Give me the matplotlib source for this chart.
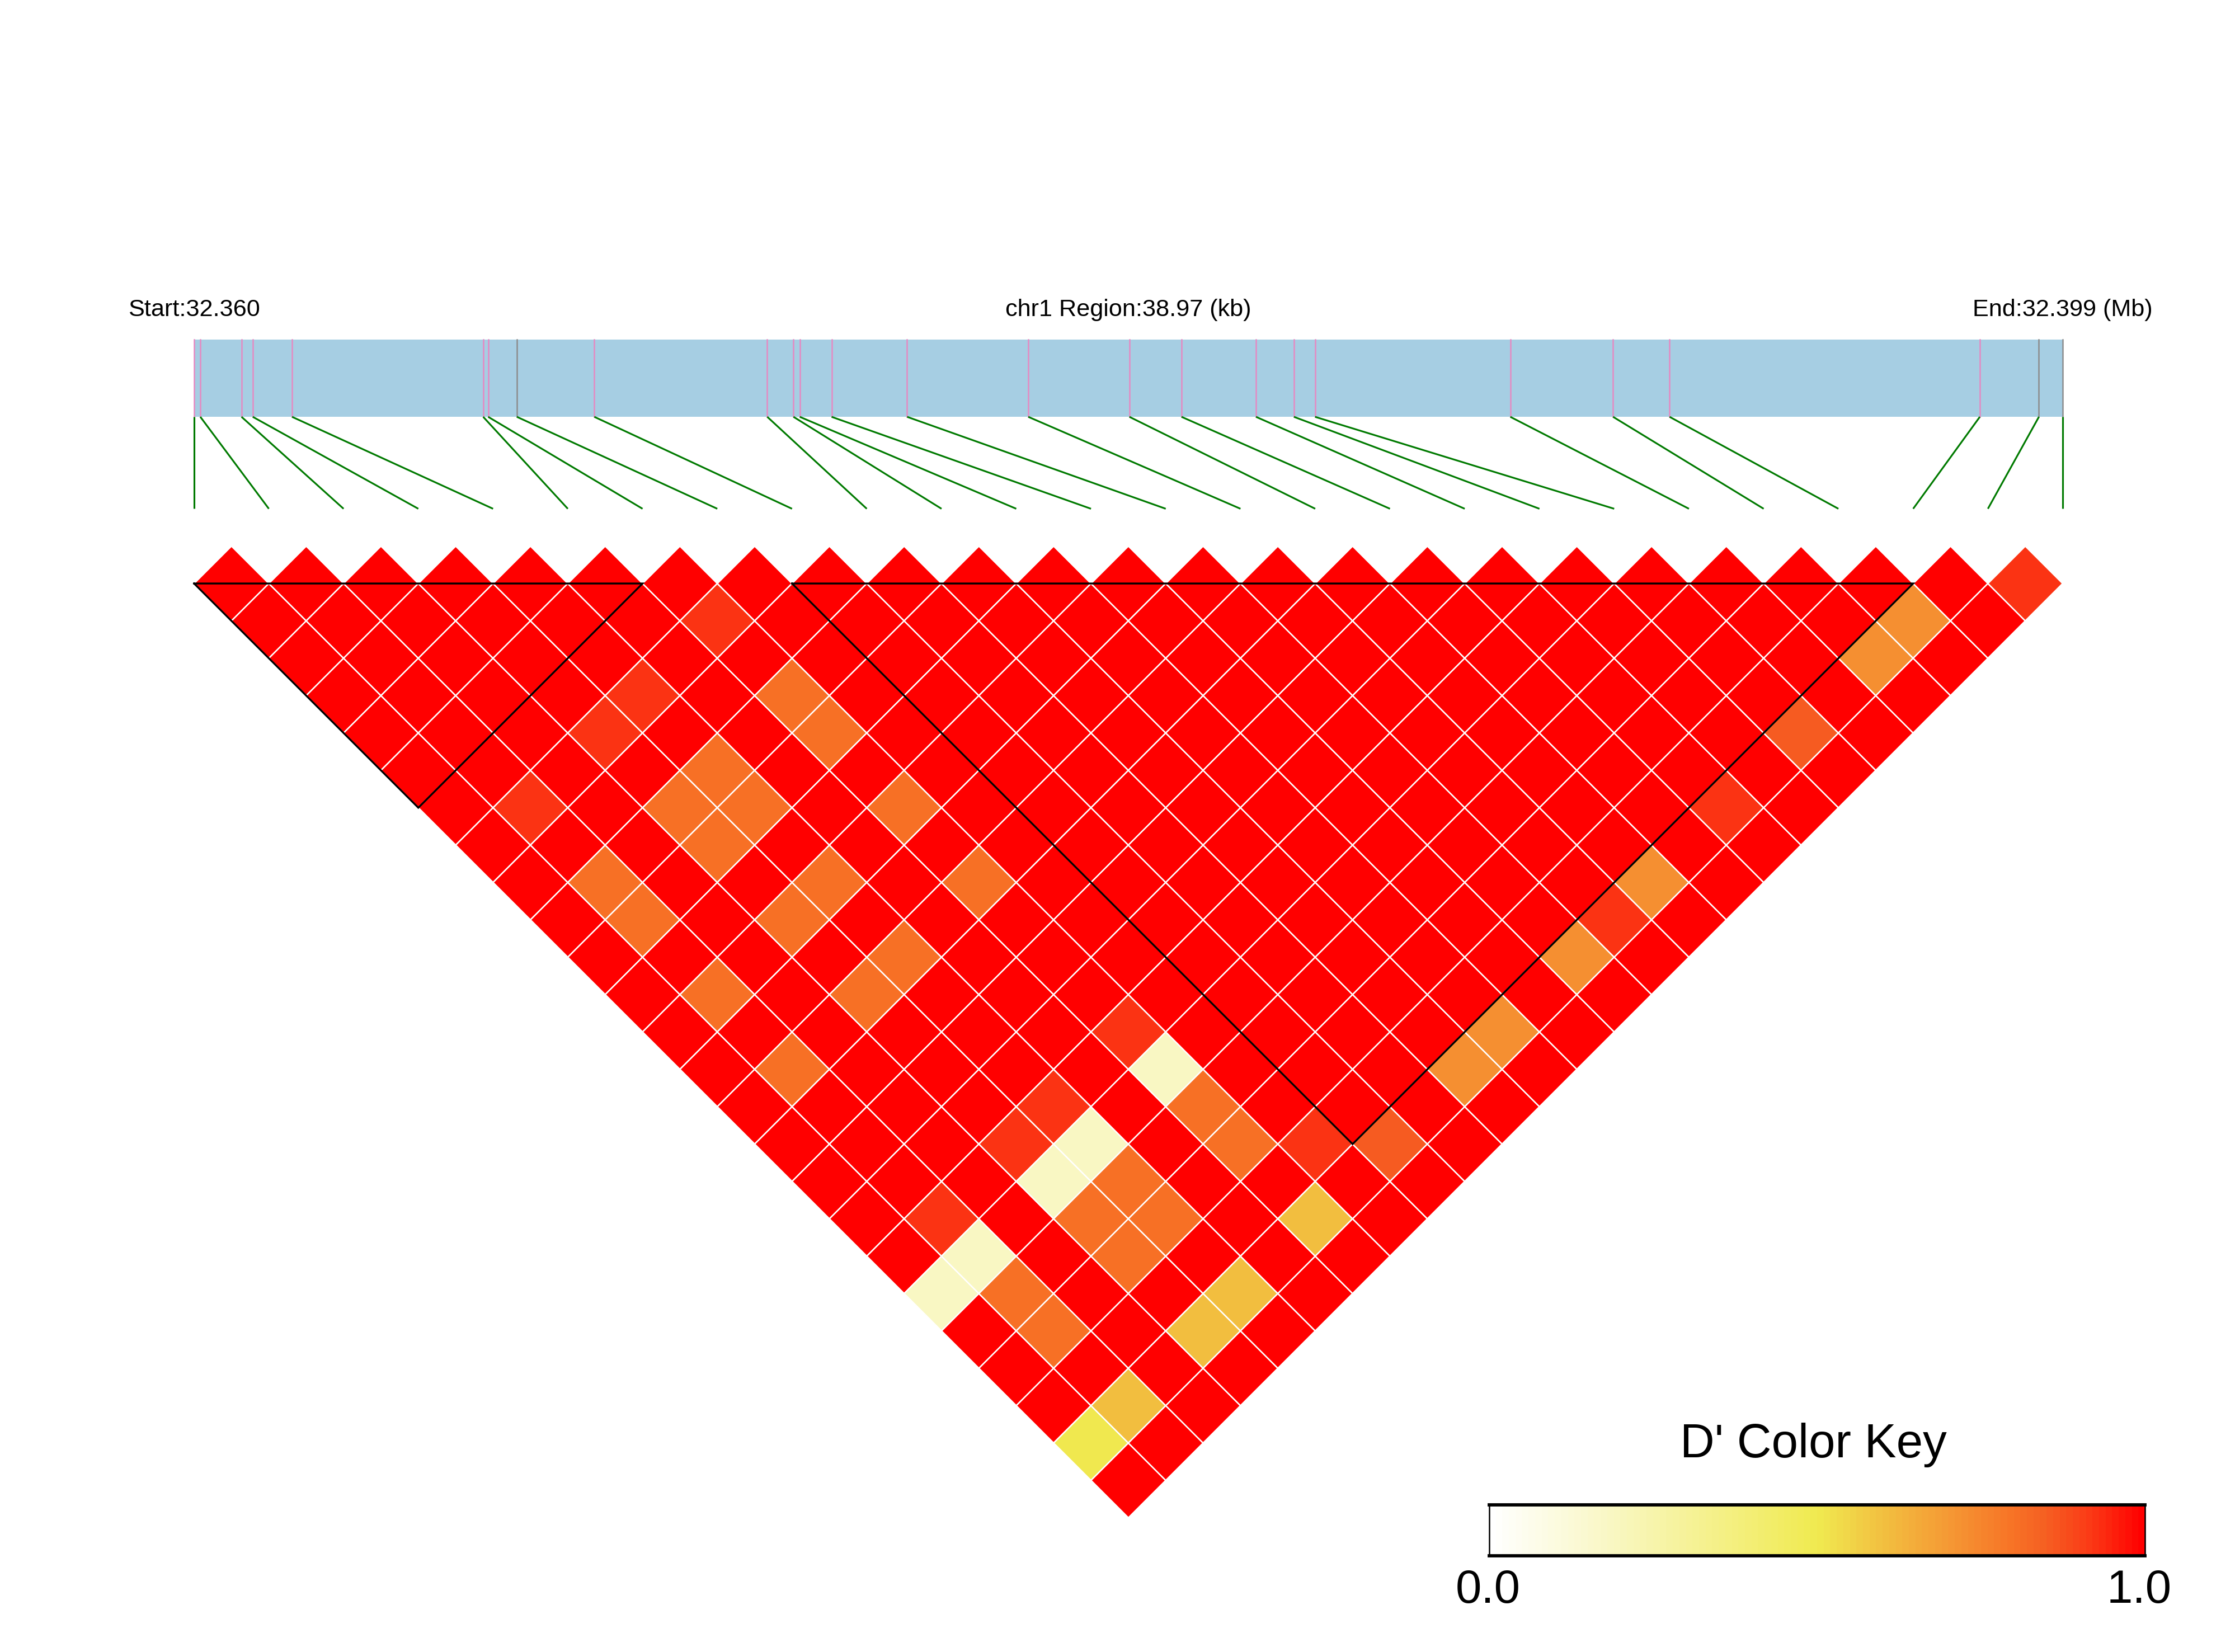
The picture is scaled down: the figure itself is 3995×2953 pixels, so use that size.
import matplotlib
matplotlib.use("Agg")
import matplotlib.pyplot as plt
import numpy as np
from matplotlib.collections import PolyCollection, LineCollection
from matplotlib.colors import LinearSegmentedColormap, Normalize

plt.rcParams["font.family"] = ["Liberation Sans", "DejaVu Sans"]

# SNP physical positions (bp) on chr1
snp_pos = [32360100, 32360230, 32361089, 32361324, 32362143, 32366129,
           32366233, 32366832, 32368447, 32372054, 32372601, 32372732,
           32373396, 32374971, 32377498, 32379607, 32380694, 32382247,
           32383038, 32383479, 32387551, 32389694, 32390873, 32397343,
           32398575, 32399070]
grey_snps = [7, 24, 25]

# pairs with D' below 1 (all other pairs are 1.0)
weak_pairs = [
    (6, 8, 0.92), (4, 8, 0.92), (3, 8, 0.92), (1, 8, 0.92),
    (6, 19, 0.92), (4, 19, 0.92), (3, 19, 0.92), (1, 19, 0.92),
    (7, 23, 0.92), (17, 24, 0.92), (14, 24, 0.92), (24, 25, 0.92),
    (1, 10, 0.80), (3, 10, 0.80), (4, 10, 0.80), (6, 10, 0.80),
    (1, 11, 0.80), (3, 11, 0.80), (4, 11, 0.80), (6, 11, 0.80),
    (1, 13, 0.80), (3, 13, 0.80), (4, 13, 0.80), (6, 13, 0.80),
    (1, 15, 0.80), (3, 15, 0.80), (4, 15, 0.80), (6, 15, 0.80),
    (1, 21, 0.80), (3, 21, 0.80), (4, 21, 0.80), (6, 21, 0.80),
    (1, 22, 0.80), (3, 22, 0.80), (4, 22, 0.80), (6, 22, 0.80),
    (8, 24, 0.85), (19, 24, 0.85),
    (22, 24, 0.72), (21, 24, 0.72), (15, 24, 0.72), (13, 24, 0.72),
    (11, 24, 0.72), (10, 24, 0.72),
    (0, 20, 0.18), (1, 20, 0.18), (3, 20, 0.18), (4, 20, 0.18), (6, 20, 0.18),
    (1, 24, 0.60), (3, 24, 0.60), (4, 24, 0.60), (6, 24, 0.60),
    (0, 24, 0.50),
]

# LD blocks (first SNP, last SNP)
blocks = [(0, 6), (8, 23)]

n = len(snp_pos)
dprime = np.ones((n, n))
for i, j, v in weak_pairs:
    dprime[i, j] = v

cmap = LinearSegmentedColormap.from_list("dkey", [
    (0.0, "#FFFFFF"), (0.18, "#F9F7C4"), (0.5, "#F0EA50"),
    (0.6, "#F2C040"), (0.72, "#F59232"), (0.80, "#F77326"),
    (0.85, "#F56022"), (0.92, "#FB3A16"), (1.0, "#FF0000")], N=100)
norm = Normalize(0, 1)

fig = plt.figure(figsize=(3995 / 300, 2953 / 300), dpi=300)
ax = fig.add_axes([0, 0, 1, 1])
ax.set_xlim(-2.597, 27.306)
ax.set_ylim(-14.796, 7.307)
ax.axis("off")

# heatmap diamonds
polys, colors = [], []
for i in range(n):
    for j in range(i + 1, n):
        cx, cy = (i + j) / 2, -(j - i) / 2
        polys.append([(cx, cy + 0.5), (cx + 0.5, cy), (cx, cy - 0.5), (cx - 0.5, cy)])
        colors.append(cmap(norm(dprime[i, j])))
ax.add_collection(PolyCollection(polys, facecolors=colors, edgecolors="white",
                                 linewidths=0.6))

# block outlines
for a, b in blocks:
    ax.plot([a, b, (a + b) / 2, a], [-0.5, -0.5, -0.5 - (b - a) / 2, -0.5],
            color="black", lw=0.8, solid_joinstyle="miter")

# gene map
start, end = snp_pos[0], snp_pos[-1]
phys_x = [(p - start) / (end - start) * (n - 1) for p in snp_pos]
map_bottom, map_top = 1.73, 2.767
ax.add_patch(plt.Rectangle((0, map_bottom), n - 1, map_top - map_bottom,
                           facecolor="#A6CEE3", edgecolor="none"))
for k, x in enumerate(phys_x):
    c = "#8C8C8C" if k in grey_snps else "#E58AC2"
    ax.plot([x, x], [map_bottom, map_top], color=c, lw=0.6)
segs = [[(x, map_bottom), (k, 0.5)] for k, x in enumerate(phys_x)]
ax.add_collection(LineCollection(segs, colors="#007A00", linewidths=0.75))

ax.text(0, 3.08, f"Start:{start / 1e6:.3f}", ha="center", va="baseline", fontsize=10.4)
ax.text((n - 1) / 2, 3.08, f"chr1 Region:{(end - start) / 1000:.2f} (kb)",
        ha="center", va="baseline", fontsize=10.4)
ax.text(n - 1, 3.08, f"End:{end / 1e6:.3f} (Mb)", ha="center", va="baseline",
        fontsize=10.4)

# color key
cax = fig.add_axes([0.6663, 0.05825, 0.2934, 0.0308])
levels = np.linspace(0, 1, 101)
cax.pcolormesh(levels, [0, 1], levels[:-1][None, :] + 0.005, cmap=cmap, norm=norm)
cax.set_xlim(0, 1)
cax.set_ylim(0, 1)
cax.set_xticks([])
cax.set_yticks([])
for name, side in cax.spines.items():
    side.set_linewidth(1.4 if name in ("top", "bottom") else 0.6)
fig.text(0.8113, 0.1178, "D' Color Key", ha="center", va="baseline", fontsize=20.5)
fig.text(0.6658, 0.0298, "0.0", ha="center", va="baseline", fontsize=20)
fig.text(0.9572, 0.0298, "1.0", ha="center", va="baseline", fontsize=20)

fig.savefig("out.png", dpi=300)
